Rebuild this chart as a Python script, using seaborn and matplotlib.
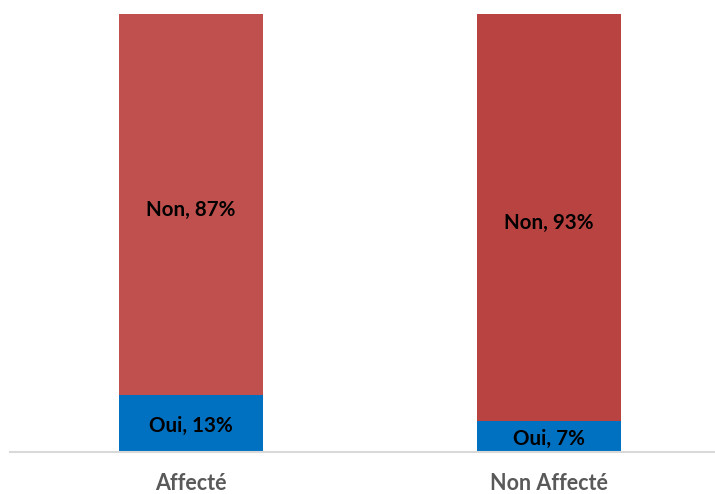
import matplotlib
matplotlib.use("Agg")
import matplotlib.pyplot as plt
import seaborn as sns
import pandas as pd

categories = ["Affecté", "Non Affecté"]
oui = [13, 7]
non = [87, 93]
non_colors = ["#C0504D", "#B94341"]
oui_color = "#0070C0"

sns.set_theme(style="white")
plt.rcParams["font.family"] = ["Lato", "DejaVu Sans"]

df = pd.DataFrame({"groupe": categories, "oui": oui, "non": non})
df["total"] = df["oui"] + df["non"]

fig = plt.figure(figsize=(7.15, 4.94), dpi=100)
ax = fig.add_axes([10 / 715, 42 / 494, 705 / 715, 438 / 494])

# Full stack (Non on top of Oui), then the Oui share drawn over its base
sns.barplot(data=df, x="groupe", y="total", hue="groupe", palette=non_colors,
            width=0.402, legend=False, ax=ax, saturation=1, linewidth=0)
sns.barplot(data=df, x="groupe", y="oui", color=oui_color,
            width=0.402, ax=ax, saturation=1, linewidth=0)

for i, (o, n) in enumerate(zip(oui, non)):
    ax.text(i, o / 2 - 0.6, f"Oui, {o}%", ha="center", va="center",
            fontsize=14.8, fontweight="bold", color="black")
    ax.text(i, o + n / 2 - 1.2, f"Non, {n}%", ha="center", va="center",
            fontsize=14.8, fontweight="bold", color="black")

ax.set_xlim(-0.5056, 1.4637)
ax.set_ylim(0, 100)
ax.set_xlabel("")
ax.set_ylabel("")
ax.set_yticks([])
ax.tick_params(axis="x", length=0, pad=15)
for lbl in ax.get_xticklabels():
    lbl.set_fontsize(15.5)
    lbl.set_fontweight("bold")
    lbl.set_color("#595959")

for side in ["top", "left", "right"]:
    ax.spines[side].set_visible(False)
ax.spines["bottom"].set_color("#D9D9D9")
ax.spines["bottom"].set_linewidth(1.5)

fig.savefig("out.png", dpi=100, facecolor="white")
